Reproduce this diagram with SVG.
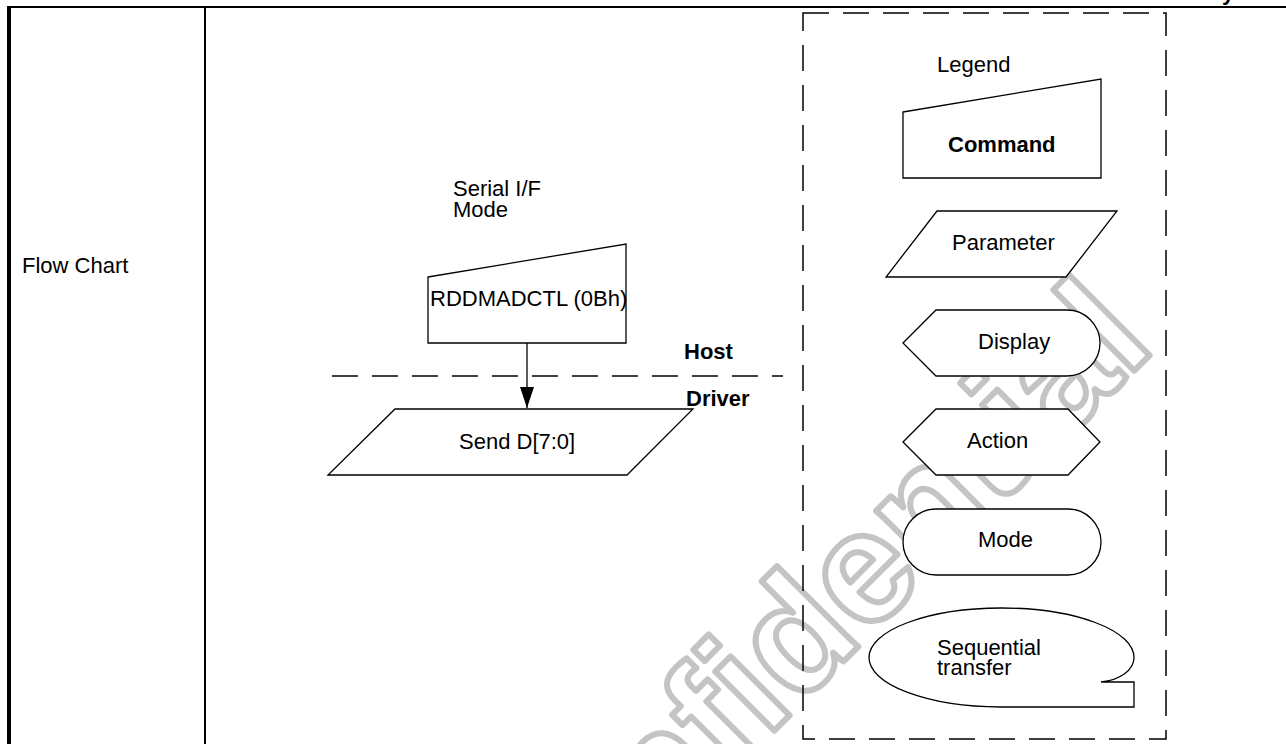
<svg xmlns="http://www.w3.org/2000/svg" width="1286" height="744" viewBox="0 0 1286 744">
<style>
.t{font-family:"Liberation Sans",Arial,sans-serif;font-size:22px;fill:#000}
.b{font-weight:bold}
.s{fill:#fff;stroke:#000;stroke-width:1.3;stroke-linejoin:miter}
.d{fill:none;stroke:#000;stroke-width:1.5;stroke-dasharray:26 14}
.wm{font-family:"Liberation Sans",Arial,sans-serif;font-weight:bold;font-size:158px;fill:none;stroke:#c4c4c4;stroke-width:6;stroke-linejoin:round}
</style>
<defs>
<marker id="ah" markerWidth="21" markerHeight="14" refX="21" refY="7" orient="auto" markerUnits="userSpaceOnUse" viewBox="0 0 21 14">
<path d="M0,0 L21,7 L0,14 Z" fill="#000"/>
</marker>
</defs>
<rect width="1286" height="744" fill="#fff"/>
<g id="watermark">
<text class="wm" transform="translate(512,993) rotate(-45)">Confidential</text>
</g>
<g id="table">
<line x1="7" y1="7" x2="1286" y2="7" stroke="#000" stroke-width="2"/>
<line x1="9" y1="6" x2="9" y2="744" stroke="#000" stroke-width="4"/>
<line x1="205" y1="7" x2="205" y2="744" stroke="#000" stroke-width="2"/>
<text class="t b" x="1222" y="0" font-size="14">y</text>
<text class="t" x="22" y="273" font-size="24">Flow Chart</text>
</g>
<g id="legend-box">
<rect class="d" x="803" y="13" width="363" height="726"/>
<text class="t" x="937" y="72">Legend</text>
</g>
<g id="boundary">
<line class="d" x1="332" y1="376" x2="783" y2="376"/>
<text class="t b" x="684" y="359">Host</text>
<text class="t b" x="686" y="406">Driver</text>
</g>
<g id="serial-mode">
<text class="t" x="453" y="196">Serial I/F</text>
<text class="t" x="453" y="217">Mode</text>
</g>
<g id="connectors">
<line x1="527" y1="343" x2="527" y2="408" stroke="#000" stroke-width="1.3" marker-end="url(#ah)"/>
</g>
<g id="rddmadctl">
<polygon class="s" points="428,277 626,244 626,343 428,343"/>
<text class="t" x="430" y="306">RDDMADCTL (0Bh)</text>
</g>
<g id="send">
<polygon class="s" points="395,409 693,409 627,475 328,475"/>
<text class="t" x="459" y="449">Send D[7:0]</text>
</g>
<g id="legend-command">
<polygon class="s" points="903,112 1101,79 1101,178 903,178"/>
<text class="t b" x="948" y="152">Command</text>
</g>
<g id="legend-parameter">
<polygon class="s" points="937,211 1117,211 1066,277 886,277"/>
<text class="t" x="952" y="250">Parameter</text>
</g>
<g id="legend-display">
<path class="s" d="M903,343 L936,310 L1067,310 A33,33 0 0 1 1067,376 L936,376 Z"/>
<text class="t" x="978" y="349">Display</text>
</g>
<g id="legend-action">
<polygon class="s" points="903,442 936,409 1068,409 1100,442 1068,475 936,475"/>
<text class="t" x="967" y="448">Action</text>
</g>
<g id="legend-mode">
<rect class="s" x="903" y="509" width="198" height="66" rx="33" ry="33"/>
<text class="t" x="978" y="547">Mode</text>
</g>
<g id="legend-sequential">
<path class="s" d="M1101,682 C1120,680 1134,670 1134,657.5 A132.5,49.5 0 0 0 869,657.5 A132.5,49.5 0 0 0 1001,707 L1134,707 L1134,682 Z"/>
<text class="t" x="937" y="655">Sequential</text>
<text class="t" x="937" y="675">transfer</text>
</g>
</svg>
